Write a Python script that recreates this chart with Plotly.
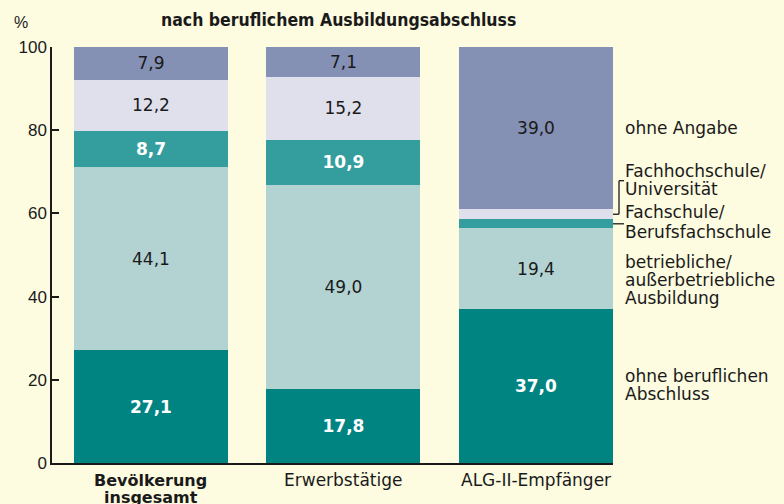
import plotly.graph_objects as go

categories = ["Bevölkerung insgesamt", "Erwerbstätige", "ALG-II-Empfänger"]
category_lines = [["Bevölkerung", "insgesamt"], ["Erwerbstätige"], ["ALG-II-Empfänger"]]
category_bold = [True, False, False]
series_names = ["ohne beruflichen Abschluss", "betriebliche/außerbetriebliche Ausbildung",
                "Fachschule/Berufsfachschule", "Fachhochschule/Universität", "ohne Angabe"]
ohne_abschluss = [27.1, 17.8, 37.0]
betrieblich = [44.1, 49.0, 19.4]
fachschule = [8.7, 10.9, 2.2]
fachhochschule = [12.2, 15.2, 2.4]
ohne_angabe = [7.9, 7.1, 39.0]
show_label = [[True, True, True], [True, True, True], [True, True, False], [True, True, False], [True, True, True]]
right_labels = [["ohne Angabe"], ["Fachhochschule/", "Universität"], ["Fachschule/", "Berufsfachschule"],
                ["betriebliche/", "außerbetriebliche", "Ausbildung"], ["ohne beruflichen", "Abschluss"]]

series = [ohne_abschluss, betrieblich, fachschule, fachhochschule, ohne_angabe]
colors = ["#008482", "#b3d3d3", "#349e9e", "#e0e0ec", "#8490b4"]
text_colors = ["white", "#1a1a1a", "white", "#1a1a1a", "#1a1a1a"]
bold = [True, False, True, False, False]

FONT = "DejaVu Sans"

fig = go.Figure()
for name, vals, col, tc, b, show in zip(series_names, series, colors, text_colors, bold, show_label):
    txt = []
    for v, s in zip(vals, show):
        t = f"{v:.1f}".replace(".", ",") if s else ""
        txt.append(f"<b>{t}</b>" if (b and t) else t)
    fig.add_trace(go.Bar(
        x=categories, y=vals, name=name, marker=dict(color=col, line=dict(width=0)),
        text=txt, textposition="inside", insidetextanchor="middle",
        textfont=dict(color=tc, size=17, family=FONT), texttemplate="%{text}",
        hoverinfo="skip", width=0.8, constraintext="none",
    ))

fig.update_layout(
    barmode="stack", width=784, height=504,
    margin=dict(l=52, r=171, t=47, b=41, autoexpand=False),
    paper_bgcolor="#fdfbe0", plot_bgcolor="#fdfbe0",
    showlegend=False, uniformtext=dict(mode=False),
    font=dict(family=FONT, color="#1a1a1a", size=17),
)
fig.update_xaxes(range=[-0.514, 2.4], showline=True, linecolor="#1a1a1a", linewidth=1.5,
                 ticks="", showticklabels=False, showgrid=False, zeroline=False, automargin=False)
fig.update_yaxes(range=[0, 100], tickvals=[0, 20, 40, 60, 80, 100], showline=True,
                 linecolor="#1a1a1a", linewidth=1.5, ticks="inside", ticklen=7, tickwidth=1.5,
                 tickcolor="#1a1a1a", showgrid=False, zeroline=False, automargin=False,
                 tickfont=dict(size=17, family="Liberation Sans"))

# category labels (tight line spacing)
for cat, lines, b in zip(categories, category_lines, category_bold):
    for i, line in enumerate(lines):
        fig.add_annotation(text=f"<b>{line}</b>" if b else line, xref="x", yref="paper", x=cat,
                           y=-(480 - 463 + i * 17) / 416, xanchor="center", yanchor="middle",
                           showarrow=False, font=dict(size=16 if b else 17, family=FONT))

# title and unit
fig.add_annotation(text="<b>nach beruflichem Ausbildungsabschluss</b>", xref="paper", yref="paper",
                   x=(338 - 52) / 561, y=(463 - 20) / 416, xanchor="center", yanchor="middle",
                   showarrow=False, font=dict(size=17.5, family="DejaVu Sans Condensed, Liberation Sans"))
fig.add_annotation(text="%", xref="paper", yref="paper", x=(21 - 52) / 561, y=(463 - 22) / 416,
                   xanchor="center", yanchor="middle", showarrow=False,
                   font=dict(size=16, family="Liberation Sans"))

# right-side labels, one annotation per line
label_tops = [128, 170.7, 211.7, 261.7, 376]
line_gap = [0, 18.6, 20, 18.3, 17.5]
for lines, py, gap in zip(right_labels, label_tops, line_gap):
    for i, line in enumerate(lines):
        fig.add_annotation(text=line, xref="paper", yref="paper", x=(623 - 52) / 561,
                           y=(463 - (py + i * gap)) / 416, xanchor="left", yanchor="middle",
                           align="left", showarrow=False, font=dict(size=17, family=FONT))

# connector lines from small ALG-II segments
base_fs = ohne_abschluss[2] + betrieblich[2]
mid_fs = base_fs + fachschule[2] / 2
mid_fh = base_fs + fachschule[2] + fachhochschule[2] / 2
xe = (613 - 52) / 561
x1 = (619 - 52) / 561
x2 = (624 - 52) / 561
top = (463 - 180.7) / 416 * 100
lc = dict(color="#1a1a1a", width=1.3)
fig.add_shape(type="line", xref="paper", yref="y", x0=xe, x1=x1, y0=mid_fh, y1=mid_fh, line=lc)
fig.add_shape(type="line", xref="paper", yref="y", x0=x1, x1=x1, y0=mid_fh, y1=top, line=lc)
fig.add_shape(type="line", xref="paper", yref="y", x0=x1, x1=x2, y0=top, y1=top, line=lc)
fig.add_shape(type="line", xref="paper", yref="y", x0=xe, x1=x2, y0=mid_fs, y1=mid_fs, line=lc)

fig.write_html("out.html", config={"displayModeBar": False},
               post_script="document.body.style.margin='0';document.body.style.background='#fdfbe0';")
